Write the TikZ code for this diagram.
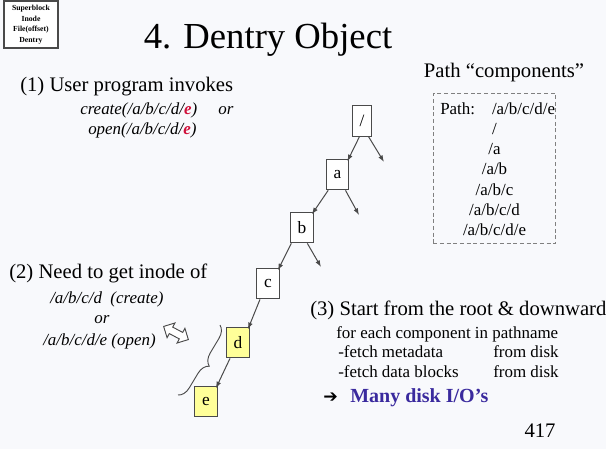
\documentclass[tikz,border=0pt]{standalone}
\usepackage{fontspec}
\setmainfont{Liberation Serif}
\newfontfamily\symfont{DejaVu Sans}
\usetikzlibrary{arrows.meta, positioning, shapes.arrows, decorations.pathreplacing}
\definecolor{slidebg}{HTML}{F8F9FC}
\definecolor{pathred}{HTML}{D0103A}
\definecolor{iodark}{HTML}{3A2A9E}
\definecolor{dirfill}{HTML}{FFFF99}
\definecolor{edgegray}{HTML}{4A4A4A}

\begin{document}
\begin{tikzpicture}[x=0.75pt,y=-0.75pt,
  txt/.style={anchor=base west,inner sep=0pt},
  big/.style={txt,font=\fontsize{15.5}{18}\selectfont},
  mid/.style={txt,font=\fontsize{12.7}{15}\selectfont},
  call/.style={txt,font=\fontsize{12.7}{15}\selectfont\itshape},
  dir/.style={draw=edgegray,line width=0.8pt,minimum width=17pt,minimum height=23pt,
    inner sep=1pt,fill=white,font=\fontsize{13}{15}\selectfont},
  hit/.style={dir,fill=dirfill},
  link/.style={edgegray,line width=0.75pt,-{Latex[length=5pt,width=3.6pt]}}]

\fill[slidebg] (0,0) rectangle (606,449);
\useasboundingbox (0,0) rectangle (606,449);

% corner tag
\node[draw=edgegray,line width=1.1pt,fill=white,minimum width=40.5pt,minimum height=35pt,
  inner sep=0pt,align=center,font=\fontsize{5.8}{7.9}\selectfont\bfseries] (tag) at (31,24.5)
  {Superblock\\Inode\\File(offset)\\Dentry};

\node[anchor=base,inner sep=0pt,font=\fontsize{27.5}{30}\selectfont] (title) at (268,49) {4. Dentry Object};

% (1)
\node[big] (step1) at (20,92) {(1) User program invokes};
\node[call] (create) at (80,115) {create(/a/b/c/d/\textcolor{pathred}{\bfseries e})\quad\ or};
\node[call] (open) at (88,135) {open(/a/b/c/d/\textcolor{pathred}{\bfseries e})};

% path components
\node[big,anchor=base] (comp) at (504,78) {Path “components”};
\node[draw=gray,densely dashed,line width=0.6pt,minimum width=92pt,minimum height=112pt] (compbox) at (494.5,168.5) {};
\node[mid] (full) at (440,115) {Path:\quad/a/b/c/d/e};
\foreach \p [count=\i] in {/,/a,/a/b,/a/b/c,/a/b/c/d,/a/b/c/d/e}
  \node[mid,anchor=base] (p\i) at (494.5,115+\i*20) {\p};

% directory chain
\node[dir,minimum width=14pt] (root) at (362,121) {/};
\node[dir] (a) at (337.5,174.5) {a};
\node[dir] (b) at (302,227.5) {b};
\node[dir] (c) at (268,283.5) {c};
\node[hit] (d) at (238,342.5) {d};
\node[hit] (e) at (206,401.5) {e};

\coordinate (rootfree) at (384,162);
\coordinate (afree) at (359,215);
\coordinate (bfree) at (321,267);

\draw[link] ([xshift=-2pt]root.south) -- ([shift={(-1.5pt,-2pt)}]a.north east);
\draw[link] ([xshift=5pt]root.south) -- (rootfree);
\draw[link] ([xshift=-7pt]a.south) -- ([shift={(-1.5pt,-2pt)}]b.north east);
\draw[link] ([xshift=6pt]a.south) -- (afree);
\draw[link] ([xshift=-8pt]b.south) -- ([shift={(-1.5pt,-2pt)}]c.north east);
\draw[link] ([xshift=4pt]b.south) -- (bfree);
\draw[link] ([xshift=-6pt]c.south) -- ([shift={(-1.5pt,-2pt)}]d.north east);
\draw[link] ([xshift=-6pt]d.south) -- ([shift={(-1.5pt,-2pt)}]e.north east);

% (2)
\node[big] (step2) at (9,278) {(2) Need to get inode of};
\node[call] (want1) at (50,303) {/a/b/c/d\ \ (create)};
\node[call,anchor=base] (want2) at (102,323) {or};
\node[call] (want3) at (43,345) {/a/b/c/d/e (open)};

\node[double arrow,draw=edgegray,fill=white,line width=0.7pt,minimum height=21pt,
  inner sep=2.4pt,double arrow head extend=3.5pt,rotate=-28] (swap) at (176,333) {};

\coordinate (brlow) at (178,395);
\coordinate (brhigh) at (220,325);
\draw[edgegray,line width=0.7pt,decorate,decoration={brace,mirror,amplitude=9pt}] (brlow) -- (brhigh);

% (3)
\node[big] (step3) at (310,315) {(3) Start from the root \& downward};
\node[mid] (each) at (336,338) {for each component in pathname};
\node[mid] (meta) at (338,357) {-fetch metadata};
\node[mid] (metadisk) at (493,357) {from disk};
\node[mid] (data) at (338,377) {-fetch data blocks};
\node[mid] (datadisk) at (493,377) {from disk};
\node[txt,font=\fontsize{13}{15}\symfont\bfseries] (arrowsym) at (323,402) {➔};
\node[txt,text=iodark,font=\fontsize{15}{18}\selectfont\bfseries] (many) at (350,402) {Many disk I/O’s};

\node[big,anchor=base] (page) at (540,437) {417};
\end{tikzpicture}
\end{document}
